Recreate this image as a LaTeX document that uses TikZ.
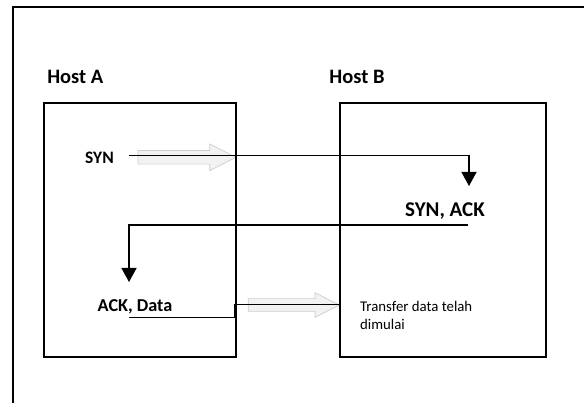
\documentclass[tikz,border=0pt]{standalone}
\usepackage{fontspec}
\setmainfont{Carlito}
\usetikzlibrary{arrows.meta, shapes.arrows, positioning}
\definecolor{cBlock}{RGB}{242, 242, 242}
\definecolor{bBlock}{RGB}{205, 205, 205}
\definecolor{tDark}{RGB}{0, 0, 0}

\begin{document}
\begin{tikzpicture}[
    x=1pt, y=-1pt,
    >={Triangle[width=15pt, length=14pt]},
    hosttitle/.style={font=\bfseries\fontsize{20.5}{24}\selectfont, inner sep=0pt},
    msg/.style={font=\bfseries\fontsize{#1}{21}\selectfont, inner sep=0pt},
    note/.style={font=\fontsize{14.8}{17.5}\selectfont, align=left, inner sep=0pt},
    hostbox/.style={
        draw=tDark,
        line width=1.8pt,
        minimum width=#1,
        minimum height=254pt,
        inner sep=0pt
    },
    block/.style={
        single arrow,
        fill=cBlock,
        draw=bBlock,
        line width=0.7pt,
        inner xsep=0pt,
        inner ysep=#1,
        single arrow head extend=#1,
        single arrow tip angle=54,
        anchor=tip
    },
    conn/.style={line width=1.3pt, color=tDark}
]

\useasboundingbox (0,0) rectangle (584,403);

% outer frame
\draw[line width=1.8pt] (12.7,403) |- (584,7.3);

% titles
\node[hosttitle] (titleA) at (75.3,77) {Host A};
\node[hosttitle] (titleB) at (357,77) {Host B};

% gray block arrows (behind everything)
\node[block=6.5pt, minimum height=98pt] (flowSyn) at (236.7,157.3) {};
\node[block=6pt, minimum height=91pt] (flowData) at (340,305) {};

% hosts
\node[hostbox=192pt] (boxA) at (140,230) {};
\node[hostbox=206pt] (boxB) at (443,230) {};

% messages
\node[msg=17.5] (syn) at (99.5,158) {SYN};
\node[msg=21] (synack) at (445,211) {SYN, ACK};
\node[msg=18.2] (ackdata) at (135,306.7) {ACK, Data};
\node[note, anchor=west] (transfer) at (360,315.5) {Transfer data telah\\dimulai};

\coordinate (synTip) at (469,186);
\coordinate (ackStart) at (468,225);
\coordinate (ackTip) at (129,282);
\coordinate (dataStart) at (129,317.3);
\coordinate (dataStep) at (234.8,304.5);

\draw[conn, ->] ([shift={(15pt,2.3pt)}]syn.east) -| (synTip);
\draw[conn, ->] (ackStart) -| (ackTip);
\draw[conn] (dataStart) -| (dataStep) -- (boxB.west |- dataStep);
\draw[line width=2.4pt] (dataStep |- dataStart) -- (dataStep);

\end{tikzpicture}
\end{document}
